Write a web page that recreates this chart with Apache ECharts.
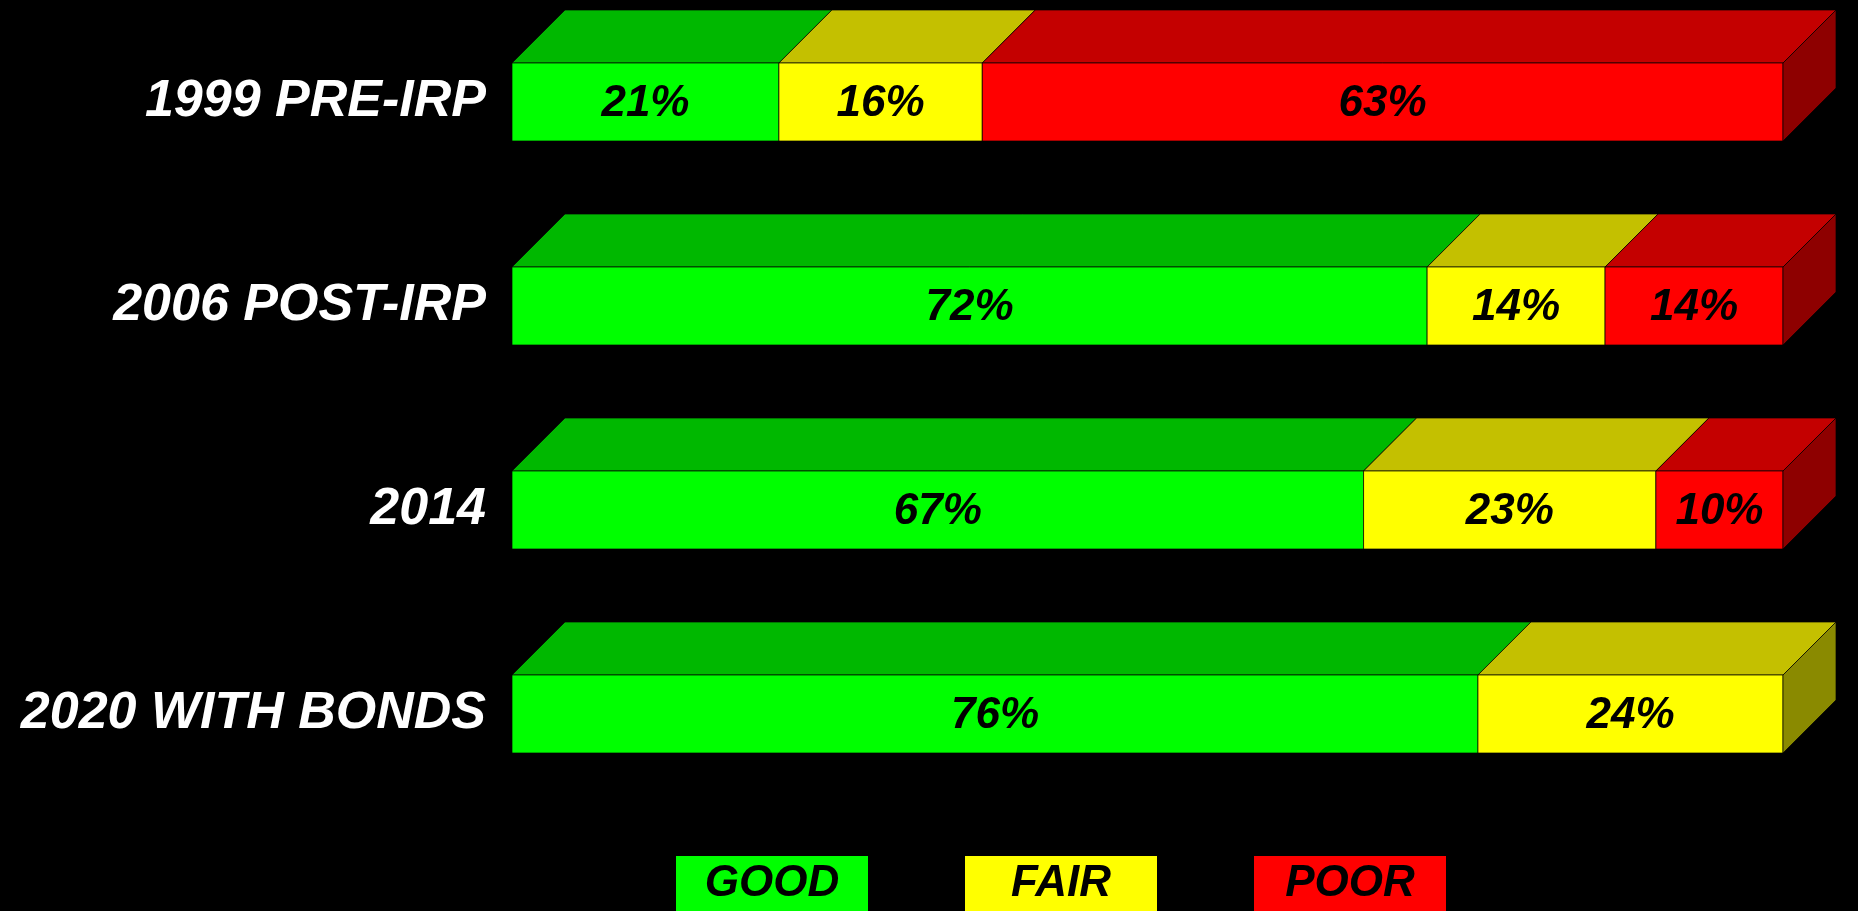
<!DOCTYPE html>
<html>
<head>
<meta charset="utf-8">
<script src="https://cdn.jsdelivr.net/npm/echarts@6/dist/echarts.min.js"></script>
<style>
html,body{margin:0;padding:0;background:#000;}
#chart{width:1858px;height:911px;}
</style>
</head>
<body>
<div id="chart"></div>
<script>
const categories = ['1999 PRE-IRP', '2006 POST-IRP', '2014', '2020 WITH BONDS'];
const goodValues = [21, 72, 67, 76];
const fairValues = [16, 14, 23, 24];
const poorValues = [63, 14, 10, 0];
const seriesNames = ['GOOD', 'FAIR', 'POOR'];

const FONT = '"Liberation Sans", Arial, sans-serif';
const palette = {
  GOOD: { front: '#00ff00', top: '#00b800', side: '#007a00' },
  FAIR: { front: '#ffff00', top: '#c4c000', side: '#8a8a00' },
  POOR: { front: '#ff0000', top: '#c40000', side: '#8e0000' }
};

const allValues = [goodValues, fairValues, poorValues];
const rowTotals = categories.map((c, i) => allValues.reduce((a, arr) => a + arr[i], 0));

function buildData(k) {
  return categories.map((c, i) => {
    let start = 0;
    for (let j = 0; j < k; j++) start += allValues[j][i];
    const v = allValues[k][i];
    const end = start + v;
    return [i, start, end, v, end >= rowTotals[i] ? 1 : 0];
  });
}

const BAR_H = 78, DX = 53, DY = 53;

function makeRender(name) {
  const col = palette[name];
  return function (params, api) {
    const cat = api.value(0), s = api.value(1), e = api.value(2), v = api.value(3), last = api.value(4);
    if (!(v > 0)) return { type: 'group', children: [] };
    const p0 = api.coord([s, cat]);
    const p1 = api.coord([e, cat]);
    const x0 = p0[0], x1 = p1[0];
    const y0 = p0[1] - BAR_H / 2, y1 = y0 + BAR_H;
    const stroke = 'rgba(0,0,0,0.7)';
    const children = [
      { type: 'polygon', shape: { points: [[x0, y0], [x1, y0], [x1 + DX, y0 - DY], [x0 + DX, y0 - DY]] },
        style: { fill: col.top, stroke: stroke, lineWidth: 1 } },
      { type: 'rect', shape: { x: x0, y: y0, width: x1 - x0, height: BAR_H },
        style: { fill: col.front, stroke: stroke, lineWidth: 1 } }
    ];
    if (last) {
      children.push({ type: 'polygon', shape: { points: [[x1, y0], [x1 + DX, y0 - DY], [x1 + DX, y1 - DY], [x1, y1]] },
        style: { fill: col.side, stroke: stroke, lineWidth: 1 } });
    }
    children.push({ type: 'text', style: { text: v + '%', x: (x0 + x1) / 2, y: (y0 + y1) / 2 + 2,
      align: 'center', verticalAlign: 'middle', fill: '#000',
      font: 'italic bold 44px ' + FONT } });
    return { type: 'group', children: children };
  };
}

const chart = echarts.init(document.getElementById('chart'), null, { renderer: 'canvas' });
const richKeys = { GOOD: 'g', FAIR: 'f', POOR: 'p' };
function legendRich(bg) {
  return { backgroundColor: bg, width: 192, height: 56, padding: [0, 0, 40, 0], align: 'center',
    verticalAlign: 'middle', color: '#000', fontSize: 44, fontStyle: 'italic', fontWeight: 'bold', fontFamily: FONT };
}

chart.setOption({
  backgroundColor: '#000',
  animation: false,
  grid: { left: 512, right: 75, top: -3, bottom: 95, containLabel: false },
  xAxis: { type: 'value', min: 0, max: 100, show: false },
  yAxis: {
    type: 'category', data: categories, inverse: true,
    axisLine: { show: false }, axisTick: { show: false }, splitLine: { show: false },
    axisLabel: { color: '#fff', fontSize: 52, fontStyle: 'italic', fontWeight: 'bold', fontFamily: FONT, margin: 26 }
  },
  legend: {
    left: 666, top: 851, orient: 'horizontal', itemWidth: 0, itemHeight: 0, itemGap: 92,
    selectedMode: false,
    data: seriesNames,
    formatter: name => '{' + richKeys[name] + '|' + name + '}',
    textStyle: { rich: { g: legendRich('#00ff00'), f: legendRich('#ffff00'), p: legendRich('#ff0000') } }
  },
  series: seriesNames.map((name, k) => ({
    type: 'custom', name: name,
    itemStyle: { color: palette[name].front },
    renderItem: makeRender(name),
    encode: { x: [1, 2], y: 0 },
    data: buildData(k)
  }))
});
</script>
</body>
</html>
